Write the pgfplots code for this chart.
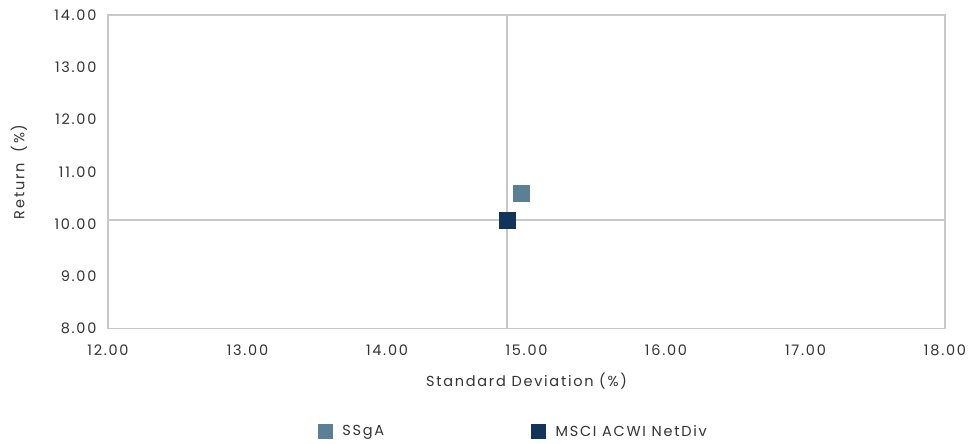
\documentclass[border=0pt]{standalone}
\usepackage{pgfplots}
\pgfplotsset{compat=1.18}
\usepackage{fontspec}
\setmainfont{Poppins}[LetterSpace=12]
\definecolor{ssga}{HTML}{5B7F95}
\definecolor{msci}{HTML}{12345A}
\definecolor{gridc}{HTML}{C8C8C8}
\begin{document}
\begin{tikzpicture}[x=1pt,y=1pt]
\useasboundingbox (-108,-115) rectangle (864,328.5);
\begin{axis}[
  at={(0,0)}, anchor=south west,
  scale only axis, width=837pt, height=313.5pt,
  xmin=12, xmax=18, ymin=8, ymax=14,
  xtick={12,13,...,18}, ytick={8,9,...,14},
  axis line style={gridc, line width=1.5pt},
  tick style={draw=none},
  /pgf/number format/assume math mode=true,
  /pgf/number format/.cd, fixed, fixed zerofill, precision=2, /pgfplots/.cd,
  ticklabel style={font=\fontsize{14.5}{17}\selectfont, text=black!80},
  label style={font=\fontsize{14.5}{17}\selectfont, text=black!80},
  xlabel={Standard Deviation (\%)},
  ylabel={Return \ (\%)},
  xlabel style={at={(rel axis cs:0.5,0)}, anchor=center, yshift=-53pt},
  ylabel style={at={(rel axis cs:-0.1063,0.5)}, anchor=center},
  xticklabel style={anchor=center, yshift=-22pt},
  yticklabel style={anchor=east, xshift=-8pt},
  legend columns=2,
  legend style={draw=none, at={(rel axis cs:0.247,-0.3285)}, anchor=west,
    font=\fontsize{14.5}{17}\selectfont, text=black!80,
    /tikz/every odd column/.append style={column sep=8pt},
    /tikz/every even column/.append style={column sep=145pt}},
  legend image code/.code={\fill[#1] (0pt,-7pt) rectangle (14pt,7pt);},
  clip=false,
]
\addplot[gridc, line width=1.5pt, forget plot] coordinates {(14.86,8) (14.86,14)};
\addplot[gridc, line width=1.5pt, forget plot] coordinates {(12,10.08) (18,10.08)};
\addplot[only marks, mark=square*, mark size=8pt, mark options={fill=ssga, draw=none}, ssga] coordinates {(14.96,10.59)};
\addlegendentry{SSgA}
\addplot[only marks, mark=square*, mark size=8pt, mark options={fill=msci, draw=none}, msci] coordinates {(14.86,10.08)};
\addlegendentry{MSCI ACWI NetDiv}
\end{axis}
\end{tikzpicture}
\end{document}
